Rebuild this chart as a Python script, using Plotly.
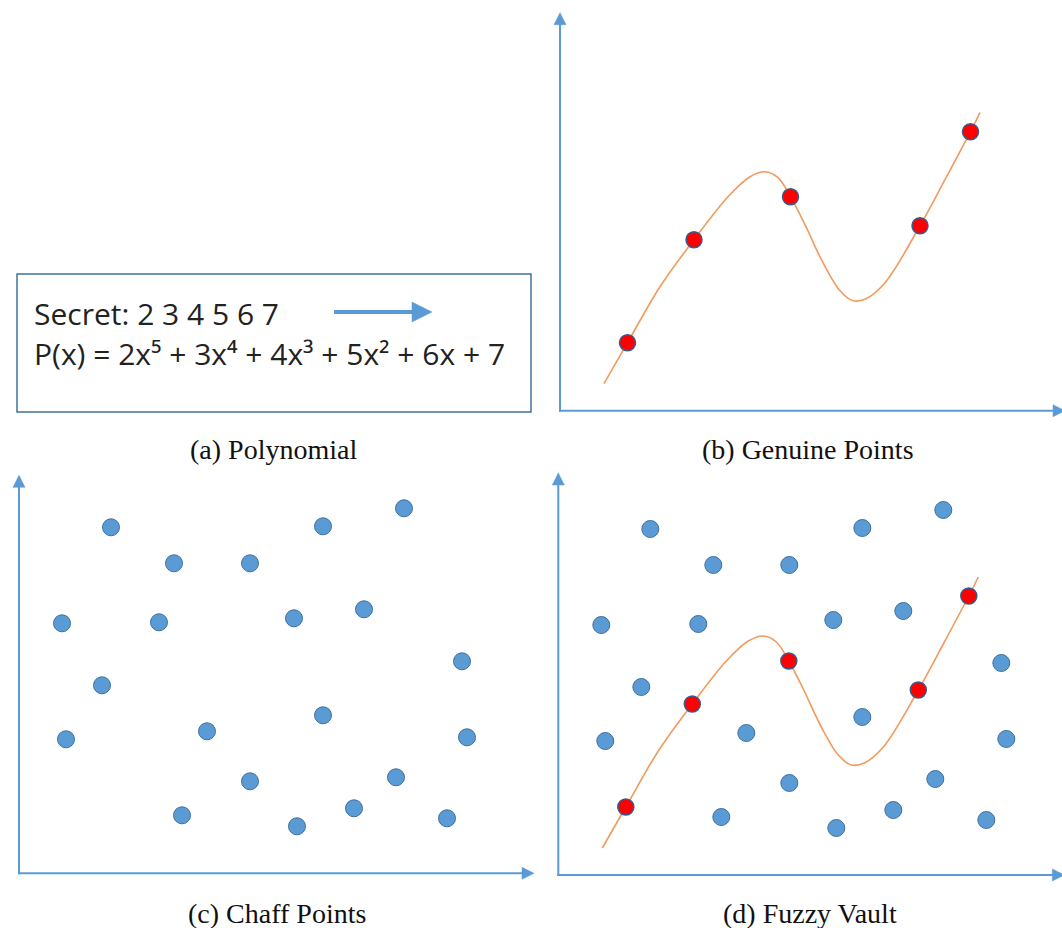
import math
import plotly.graph_objects as go

W, H = 1062, 928

# Chaff points (shared by the chaff and vault panels), in axis units
chaff_x = [92, 155, 231, 304, 385, 43, 140, 275, 345, 443, 83,
           47, 188, 304, 448, 231, 377, 163, 278, 335, 428]
chaff_y = [346, 310, 310, 347, 365, 250, 251, 255, 264, 212, 188,
           134, 142, 158, 136, 92, 96, 58, 47, 65, 55]

# Genuine points lying on the polynomial
genuine_x = [67.5, 134, 230.5, 360, 410.5]
genuine_y = [68, 171, 214, 185, 279]

# Polynomial curve samples
curve_x = [44, 67.5, 100, 134, 168, 190, 205, 218, 230.5,
           245, 262, 280, 293, 306, 325, 360, 385, 410.5, 420]
curve_y = [27, 68, 124, 171, 214, 234, 239, 233, 214,
           186, 150, 120, 110, 112, 128, 185, 231, 279, 298]

secret_text = "Secret: 2 3 4 5 6 7"
poly_text = "P(x) = 2x\u2075 + 3x\u2074 + 4x\u00b3 + 5x\u00b2 + 6x + 7"
captions = ["(a) Polynomial", "(b) Genuine Points",
            "(c) Chaff Points", "(d) Fuzzy Vault"]

BLUE = "#5B9BD5"
BLUE_EDGE = "#41719C"
RED = "#FF0000"
RED_EDGE = "#3A5A8C"
ORANGE = "#F29A5C"

# Panel frames in page pixels: (left, top, right, bottom) and axis origin
panels = {
    1: dict(box=(0, 0, 540, 430), origin=(17, 412)),
    2: dict(box=(540, 0, 1062, 430), origin=(560, 410.7)),
    3: dict(box=(0, 465, 540, 928), origin=(19, 873.3)),
    4: dict(box=(540, 465, 1062, 928), origin=(558.3, 875)),
}

fig = go.Figure()
layout = dict(width=W, height=H, margin=dict(l=0, r=0, t=0, b=0),
              paper_bgcolor="white", plot_bgcolor="white",
              showlegend=False)

for n, p in panels.items():
    l, t, r, b = p["box"]
    ox, oy = p["origin"]
    sfx = "" if n == 1 else str(n)
    layout["xaxis" + sfx] = dict(domain=[l / W, r / W], range=[l - ox, r - ox],
                                 visible=False, anchor="y" + sfx, fixedrange=True)
    layout["yaxis" + sfx] = dict(domain=[1 - b / H, 1 - t / H], range=[oy - b, oy - t],
                                 visible=False, anchor="x" + sfx, fixedrange=True)
fig.update_layout(**layout)


def arrow(n, x0, y0, x1, y1, width, head_len, head_w, color=BLUE):
    """Straight arrow from (x0, y0) to the tip (x1, y1); axis units are pixels."""
    ref = "" if n == 1 else str(n)
    dx, dy = x1 - x0, y1 - y0
    d = math.hypot(dx, dy)
    ux, uy = dx / d, dy / d
    bx, by = x1 - ux * head_len, y1 - uy * head_len
    px, py = -uy * head_w / 2, ux * head_w / 2
    fig.add_shape(type="line", xref="x" + ref, yref="y" + ref,
                  x0=x0, y0=y0, x1=bx + ux, y1=by + uy,
                  line=dict(color=color, width=width))
    path = (f"M{x1},{y1} L{bx + px},{by + py} L{bx - px},{by - py} Z")
    fig.add_shape(type="path", xref="x" + ref, yref="y" + ref, path=path,
                  fillcolor=color, line=dict(color=color, width=0.5))


def add_axes_arrows(n, x_end, y_end):
    arrow(n, -1, 0, x_end, 0, 2, 12, 12)
    arrow(n, 0, -1, 0, y_end, 2, 12, 12)


def add_chaff(n):
    ref = "" if n == 1 else str(n)
    fig.add_trace(go.Scatter(x=chaff_x, y=chaff_y, mode="markers",
                             xaxis="x" + ref, yaxis="y" + ref,
                             marker=dict(size=17, color=BLUE,
                                         line=dict(color=BLUE_EDGE, width=1))))


def add_curve_and_genuine(n):
    ref = "" if n == 1 else str(n)
    fig.add_trace(go.Scatter(x=curve_x, y=curve_y, mode="lines",
                             xaxis="x" + ref, yaxis="y" + ref,
                             line=dict(color=ORANGE, width=1.6,
                                       shape="spline", smoothing=1.0)))
    fig.add_trace(go.Scatter(x=genuine_x, y=genuine_y, mode="markers",
                             xaxis="x" + ref, yaxis="y" + ref,
                             marker=dict(size=16, color=RED,
                                         line=dict(color=RED_EDGE, width=1.5))))


# (a) Polynomial text box
fig.add_shape(type="rect", xref="x", yref="y", x0=0, y0=0, x1=514, y1=138,
              line=dict(color=BLUE_EDGE, width=1.5), fillcolor="rgba(0,0,0,0)")
fig.add_annotation(x=15, y=99, xref="x", yref="y", text=secret_text,
                   showarrow=False, xanchor="left", yanchor="middle",
                   font=dict(family="Open Sans", size=30, color="#222222"))
fig.add_annotation(x=15, y=59, xref="x", yref="y", text=poly_text,
                   showarrow=False, xanchor="left", yanchor="middle",
                   font=dict(family="Open Sans", size=30, color="#222222"))
arrow(1, 317, 100, 415, 100, 4, 20, 20)

# (b) Genuine points
add_curve_and_genuine(2)
add_axes_arrows(2, 505, 398)

# (c) Chaff points
add_chaff(3)
add_axes_arrows(3, 515, 398)

# (d) Fuzzy vault
add_chaff(4)
add_curve_and_genuine(4)
add_axes_arrows(4, 506, 402)

# Sub-figure captions
cap_pos = [(274, 449), (808, 449), (277, 913), (810, 913)]
for txt, (cx, cy) in zip(captions, cap_pos):
    fig.add_annotation(x=cx / W, y=1 - cy / H, xref="paper", yref="paper",
                       text=txt, showarrow=False, xanchor="center",
                       yanchor="middle",
                       font=dict(family="Liberation Serif", size=28,
                                 color="#111111"))

fig.write_html("out.html")
